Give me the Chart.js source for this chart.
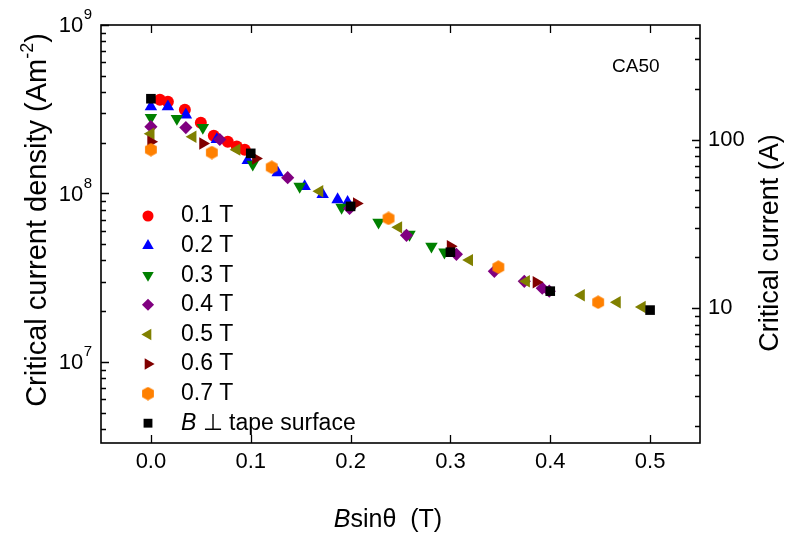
<!DOCTYPE html>
<html><head><meta charset="utf-8">
<script src="https://cdn.jsdelivr.net/npm/chart.js@4/dist/chart.umd.min.js"></script>
<style>html,body{margin:0;padding:0;background:#fff;}#wrap{width:788px;height:538px;}</style>
</head><body><div id="wrap"><canvas id="c" width="788" height="538"></canvas></div>
<script>
// ---- data (B sin(theta) in T, Jc in A/m^2) ----
const seriesLabels = ['0.1 T','0.2 T','0.3 T','0.4 T','0.5 T','0.6 T','0.7 T','B \u22A5 tape surface'];
const x01 = [0.009, 0.017, 0.034, 0.050, 0.063, 0.077, 0.086, 0.094];
const jc01 = [3.6e8, 3.5e8, 3.14e8, 2.63e8, 2.2e8, 2.03e8, 1.9e8, 1.82e8];
const x02 = [0, 0.017, 0.035, 0.066, 0.097, 0.127, 0.154, 0.172, 0.187, 0.197];
const jc02 = [3.27e8, 3.27e8, 2.93e8, 2.09e8, 1.57e8, 1.33e8, 1.10e8, 9.86e7, 9.2e7, 8.86e7];
const x03 = [0, 0.026, 0.052, 0.102, 0.149, 0.191, 0.228, 0.259, 0.281, 0.294];
const jc03 = [2.82e8, 2.78e8, 2.46e8, 1.49e8, 1.10e8, 8.26e7, 6.73e7, 5.71e7, 4.86e7, 4.48e7];
const x04 = [0, 0.035, 0.069, 0.137, 0.199, 0.256, 0.306, 0.344, 0.374, 0.392, 0.399];
const jc04 = [2.49e8, 2.46e8, 2.09e8, 1.24e8, 8.15e7, 5.64e7, 4.35e7, 3.45e7, 3.01e7, 2.74e7, 2.63e7];
const x05 = [0, 0.042, 0.086, 0.169, 0.248, 0.319, 0.376, 0.431, 0.467, 0.492];
const jc05 = [2.26e8, 2.17e8, 1.82e8, 1.03e8, 6.29e7, 4.02e7, 3.01e7, 2.49e7, 2.26e7, 2.12e7];
const x06 = [0, 0.052, 0.105, 0.206, 0.300, 0.386];
const jc06 = [2.03e8, 1.98e8, 1.61e8, 8.73e7, 4.86e7, 2.97e7];
const x07 = [0, 0.061, 0.121, 0.238, 0.348, 0.448];
const jc07 = [1.82e8, 1.75e8, 1.43e8, 7.11e7, 3.65e7, 2.26e7];
const xPerp = [0, 0.1, 0.2, 0.3, 0.4, 0.5];
const jcPerp = [3.65e8, 1.73e8, 8.38e7, 4.48e7, 2.63e7, 2.03e7];

const xTicks = [0, 0.1, 0.2, 0.3, 0.4, 0.5];
const jcTickExponents = [7, 8, 9];
const icTicks = [10, 100];
const xMin = -0.05, xMax = 0.55;
const jcMin = 3.3e6, jcMax = 1e9;
const ampsPerJc = 4.8e-7; // Ic (A) = Jc (A/m^2) * conductor cross-section

const FONT = '"Liberation Sans", Arial, sans-serif';
const colors = ['#ff0000','#0000ff','#008000','#800080','#808000','#800000','#ff8000','#000000'];

// hexagon marker
function hexCanvas(color){
  const c = document.createElement('canvas'); c.width = 14; c.height = 14;
  const g = c.getContext('2d'); g.fillStyle = color; g.beginPath();
  for (let k = 0; k < 6; k++){ const a = Math.PI/6 + k*Math.PI/3; const px = 7 + 6.8*Math.cos(a), py = 7 + 6.8*Math.sin(a); k ? g.lineTo(px,py) : g.moveTo(px,py); }
  g.closePath(); g.fill(); return c;
}
const styles = [
  {pointStyle:'circle', rotation:0, radius:6},
  {pointStyle:'triangle', rotation:0, radius:7.2},
  {pointStyle:'triangle', rotation:180, radius:7.2},
  {pointStyle:'rectRot', rotation:0, radius:6.6},
  {pointStyle:'triangle', rotation:270, radius:7.2},
  {pointStyle:'triangle', rotation:90, radius:7.2},
  {pointStyle:hexCanvas('#ff8000'), rotation:0, radius:7},
  {pointStyle:'rect', rotation:0, radius:6.8}
];
const xs = [x01,x02,x03,x04,x05,x06,x07,xPerp];
const ys = [jc01,jc02,jc03,jc04,jc05,jc06,jc07,jcPerp];

const datasets = xs.map((xa, i) => ({
  label: seriesLabels[i],
  data: xa.map((x, j) => ({x: x, y: ys[i][j]})),
  showLine: false,
  pointStyle: styles[i].pointStyle,
  rotation: styles[i].rotation,
  pointRadius: styles[i].radius,
  pointHoverRadius: styles[i].radius,
  backgroundColor: colors[i],
  borderColor: colors[i],
  borderWidth: 0,
  yAxisID: 'y',
  order: xs.length - 1 - i
}));

function logTicks(min, max){
  const out = [];
  for (let e = Math.floor(Math.log10(min)); e <= Math.ceil(Math.log10(max)); e++){
    for (let m = 1; m < 10; m++){ const v = m*Math.pow(10,e); if (v >= min*0.999 && v <= max*1.001) out.push([v, m === 1]); }
  }
  return out;
}

function drawMarker(ctx, i, x, y){
  const st = styles[i];
  if (Chart.helpers && Chart.helpers.drawPoint){
    ctx.fillStyle = colors[i]; ctx.strokeStyle = colors[i]; ctx.lineWidth = 0;
    Chart.helpers.drawPoint(ctx, {pointStyle: st.pointStyle, rotation: st.rotation, radius: st.radius*0.92, borderWidth: 0}, x, y);
  }
}

const decor = {
  id: 'decor',
  afterDraw(chart){
    const {ctx, chartArea: a, scales} = chart;
    const sx = scales.x, sy = scales.y, sy2 = scales.y2;
    ctx.save();
    // frame
    ctx.strokeStyle = '#000'; ctx.lineWidth = 1.6;
    ctx.strokeRect(a.left, a.top, a.right - a.left, a.bottom - a.top);
    ctx.lineWidth = 1.3;
    ctx.beginPath();
    xTicks.forEach(v => { const p = Math.round(sx.getPixelForValue(v)) + 0.5;
      ctx.moveTo(p, a.bottom); ctx.lineTo(p, a.bottom - 8); ctx.moveTo(p, a.top); ctx.lineTo(p, a.top + 8); });
    logTicks(sy.min, sy.max).forEach(([v, major]) => { const p = Math.round(sy.getPixelForValue(v)) + 0.5;
      ctx.moveTo(a.left, p); ctx.lineTo(a.left + (major ? 8 : 5), p); });
    logTicks(sy2.min, sy2.max).forEach(([v, major]) => { const p = Math.round(sy2.getPixelForValue(v)) + 0.5;
      ctx.moveTo(a.right, p); ctx.lineTo(a.right - (major ? 8 : 5), p); });
    ctx.stroke();

    ctx.fillStyle = '#000';
    // left tick labels 10^n
    jcTickExponents.forEach(e => {
      const p = sy.getPixelForValue(Math.pow(10, e));
      ctx.font = '15px ' + FONT; ctx.textBaseline = 'middle'; ctx.textAlign = 'left';
      const ew = ctx.measureText(String(e)).width;
      const right = a.left - 9;
      ctx.fillText(String(e), right - ew, p - 10);
      ctx.font = '22px ' + FONT; ctx.textAlign = 'right';
      ctx.fillText('10', right - ew - 0.5, p + 1);
    });

    // left title
    ctx.save();
    ctx.translate(38, 220); ctx.rotate(-Math.PI/2);
    ctx.textBaseline = 'middle'; ctx.textAlign = 'left';
    const big = '29px ' + FONT, small = '18px ' + FONT;
    ctx.font = big; const w1 = ctx.measureText('Critical current density (Am').width;
    ctx.font = small; const w2 = ctx.measureText('-2').width;
    ctx.font = big; const w3 = ctx.measureText(')').width;
    let sx0 = -(w1 + w2 + w3)/2;
    ctx.font = big; ctx.fillText('Critical current density (Am', sx0, 0);
    ctx.font = small; ctx.fillText('-2', sx0 + w1, -10);
    ctx.font = big; ctx.fillText(')', sx0 + w1 + w2, 0);
    ctx.restore();

    // right title
    ctx.save();
    ctx.translate(771, 243); ctx.rotate(-Math.PI/2);
    ctx.textBaseline = 'middle'; ctx.textAlign = 'center'; ctx.font = '27px ' + FONT;
    ctx.fillText('Critical current (A)', 0, 0);
    ctx.restore();

    // x title
    const xt = '25px ' + FONT;
    ctx.textBaseline = 'middle'; ctx.textAlign = 'left';
    ctx.font = 'italic ' + xt; const bw = ctx.measureText('B').width;
    ctx.font = xt; const rw = ctx.measureText('sin\u03B8  (T)').width;
    const tx = 388 - (bw + rw)/2;
    ctx.font = 'italic ' + xt; ctx.fillText('B', tx, 520);
    ctx.font = xt; ctx.fillText('sin\u03B8  (T)', tx + bw, 520);

    // sample name
    ctx.font = '19px ' + FONT; ctx.fillText('CA50', 612, 67);

    // legend
    const legFont = '23px ' + FONT;
    seriesLabels.forEach((lab, i) => {
      const ly = 216 + i*29.6;
      drawMarker(ctx, i, 148, ly);
      ctx.fillStyle = '#000'; ctx.textAlign = 'left'; ctx.textBaseline = 'middle';
      if (i === seriesLabels.length - 1){
        ctx.font = 'italic ' + legFont; ctx.fillText('B', 181, ly);
        const bw2 = ctx.measureText('B').width;
        ctx.font = legFont; ctx.fillText(lab.slice(1), 181 + bw2, ly);
      } else {
        ctx.font = legFont; ctx.fillText(lab, 181, ly);
      }
    });
    ctx.restore();
  }
};

new Chart(document.getElementById('c'), {
  type: 'scatter',
  data: { datasets },
  options: {
    responsive: false, animation: false, devicePixelRatio: 1,
    layout: { padding: { top: 25, left: 0, right: 0, bottom: 0 } },
    plugins: { legend: { display: false }, tooltip: { enabled: false }, title: { display: false } },
    scales: {
      x: {
        type: 'linear', min: xMin, max: xMax,
        afterBuildTicks: s => { s.ticks = xTicks.map(v => ({value: v})); },
        afterFit: s => { s.height = 95; },
        ticks: { color: '#000', font: { family: FONT, size: 22 }, padding: 6, callback: v => Number(v).toFixed(1), maxRotation: 0 },
        grid: { display: false, drawTicks: false }, border: { display: false }
      },
      y: {
        type: 'logarithmic', position: 'left', min: jcMin, max: jcMax,
        afterFit: s => { s.width = 101; },
        ticks: { display: false },
        grid: { display: false, drawTicks: false }, border: { display: false }
      },
      y2: {
        type: 'logarithmic', position: 'right', min: jcMin*ampsPerJc, max: jcMax*ampsPerJc,
        afterBuildTicks: s => { s.ticks = icTicks.map(v => ({value: v})); },
        afterFit: s => { s.width = 88; },
        ticks: { color: '#000', font: { family: FONT, size: 22 }, padding: 8, callback: v => String(v) },
        grid: { display: false, drawTicks: false }, border: { display: false }
      }
    }
  },
  plugins: [decor]
});
</script></body></html>
